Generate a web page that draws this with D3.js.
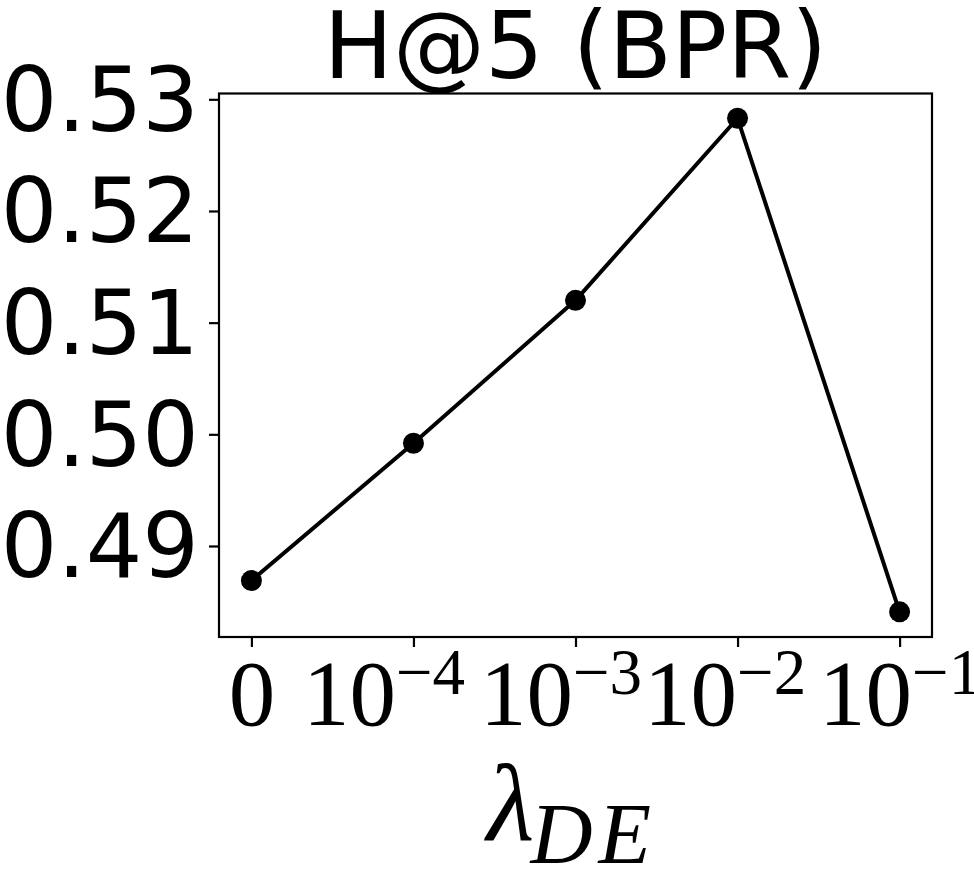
<!DOCTYPE html>
<html>
<head>
<meta charset="utf-8">
<script src="https://cdn.jsdelivr.net/npm/d3@7"></script>
<style>
  html, body { margin: 0; padding: 0; background: #fff; }
  svg { display: block; }
</style>
</head>
<body>
<svg id="chart" width="974" height="870"></svg>
<script>
const categories = ["0", "1e-4", "1e-3", "1e-2", "1e-1"];
const xTickBase = ["0", "10", "10", "10", "10"];
const xTickExp = ["", "\u22124", "\u22123", "\u22122", "\u22121"];
const values = [0.4869, 0.4992, 0.5120, 0.5283, 0.4841];
const yTicks = [0.49, 0.50, 0.51, 0.52, 0.53];
const title = "H@5 (BPR)";

(function () {
const svg = d3.select("#chart");
const mLeft = 219, mRight = 932, mTop = 93.5, mBottom = 637;
// small horizontal nudges of the tick labels, as in the reference render
const xLabelNudge = [0, -30, -15, -13, 0];

const x = d3.scaleLinear().domain([-0.2, 4.2]).range([mLeft, mRight]);
const y = d3.scaleLinear().domain([0.48185, 0.53052]).range([mBottom, mTop]);

// Line
const line = d3.line().x((d, i) => x(i)).y(d => y(d));
svg.append("path").datum(values)
  .attr("d", line).attr("fill", "none").attr("stroke", "#000")
  .attr("stroke-width", 4).attr("stroke-linejoin", "round");

svg.selectAll("circle.pt").data(values).enter().append("circle")
  .attr("class", "pt").attr("cx", (d, i) => x(i)).attr("cy", d => y(d))
  .attr("r", 10.5).attr("fill", "#000");

// Frame
svg.append("rect").attr("x", mLeft).attr("y", mTop)
  .attr("width", mRight - mLeft).attr("height", mBottom - mTop)
  .attr("fill", "none").attr("stroke", "#000").attr("stroke-width", 2.2);

// Y axis
const yAxis = d3.axisLeft(y).tickValues(yTicks).tickSize(10).tickPadding(10)
  .tickFormat(d3.format(".2f"));
const yg = svg.append("g").attr("transform", `translate(${mLeft},0)`).call(yAxis);
yg.select(".domain").remove();
yg.selectAll(".tick line").attr("stroke", "#000").attr("stroke-width", 2.2);
yg.selectAll(".tick text")
  .attr("font-family", "'DejaVu Sans', sans-serif").attr("font-size", 89)
  .attr("fill", "#000").attr("dy", null).attr("dominant-baseline", "central");

// X axis
const xAxis = d3.axisBottom(x).tickValues(d3.range(categories.length)).tickSize(10)
  .tickFormat(() => "");
const xg = svg.append("g").attr("transform", `translate(0,${mBottom})`).call(xAxis);
xg.select(".domain").remove();
xg.selectAll(".tick line").attr("stroke", "#000").attr("stroke-width", 2.2);
xg.selectAll(".tick text").remove();
xg.selectAll(".tick").each(function(d, i) {
  const t = d3.select(this).append("text")
    .attr("x", xLabelNudge[i]).attr("y", 88).attr("text-anchor", "middle")
    .attr("font-family", "'Liberation Serif', 'Times New Roman', serif")
    .attr("font-size", 93).attr("fill", "#000");
  t.append("tspan").text(xTickBase[i]);
  if (xTickExp[i]) {
    t.append("tspan").attr("font-size", 65).attr("dy", -31).text(xTickExp[i]);
  }
});

// X label
const xl = svg.append("text").attr("x", 572).attr("y", 840)
  .attr("text-anchor", "middle")
  .attr("font-family", "'Liberation Serif', 'Times New Roman', serif")
  .attr("font-style", "italic").attr("fill", "#000");
xl.append("tspan").attr("font-size", 110).text("\u03bb");
xl.append("tspan").attr("font-size", 86).attr("dy", 23).attr("dx", -4)
  .attr("letter-spacing", 6).text("DE");

// Title
svg.append("text").attr("x", (mLeft + mRight) / 2).attr("y", 78)
  .attr("text-anchor", "middle")
  .attr("font-family", "'DejaVu Sans', sans-serif").attr("font-size", 92)
  .attr("fill", "#000").text(title);
})();
</script>
</body>
</html>
